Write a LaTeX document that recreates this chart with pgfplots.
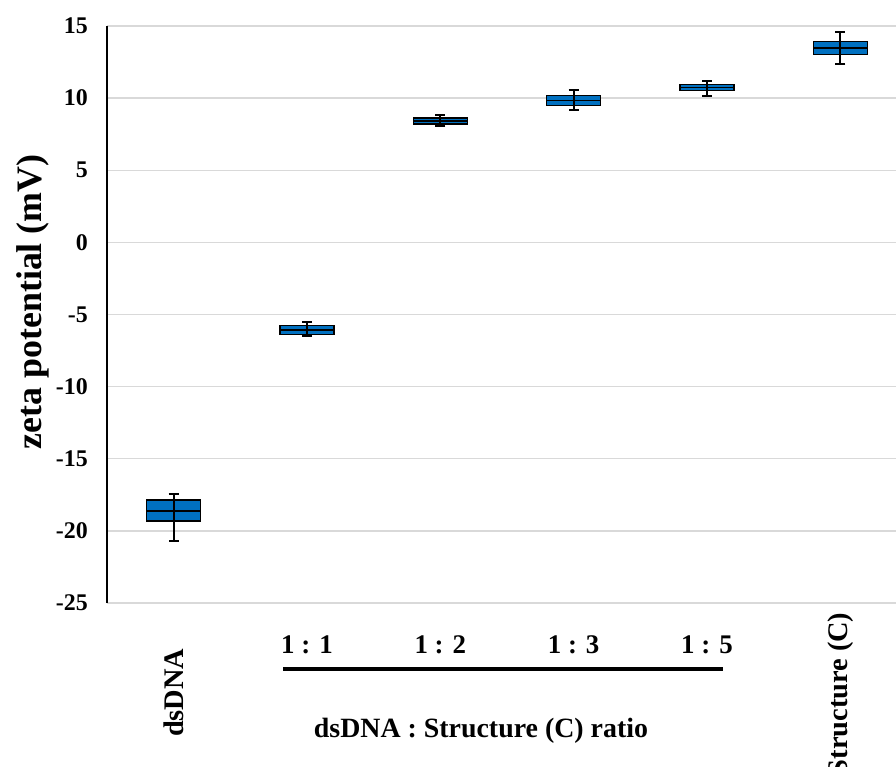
\documentclass[border=0pt]{standalone}
\usepackage{fontspec}
\setmainfont{Liberation Serif}
\usepackage{pgfplots}
\pgfplotsset{compat=1.18}
\usepgfplotslibrary{statistics}
\usetikzlibrary{calc}
\definecolor{boxblue}{HTML}{0070C0}
\definecolor{gridgray}{HTML}{D9D9D9}
\newcommand{\tfont}{\bfseries\fontsize{24}{28}\selectfont}
\newcommand{\cfont}{\bfseries\fontsize{27}{30}\selectfont}
\newcommand{\rfont}{\bfseries\fontsize{28.5}{32}\selectfont}
\begin{document}
\begin{tikzpicture}
\begin{axis}[
  scale only axis,
  width=789bp, height=577bp,
  xmin=-0.5, xmax=5.4175,
  ymin=-25, ymax=15,
  ytick={-25,-20,...,15},
  xtick=\empty,
  axis lines*=left,
  x axis line style={draw=none},
  y axis line style={black, line width=1.4pt},
  ymajorgrids,
  grid style={gridgray, line width=1.3pt},
  major tick length=0pt,
  /pgf/number format/assume math mode=true,
  yticklabel style={font=\tfont, inner sep=0pt, anchor=east, xshift=-19bp},
  ylabel={zeta potential (mV)},
  ylabel style={font=\bfseries\fontsize{36}{40}\selectfont, at={(axis description cs:0,0.522)}, anchor=center, yshift=74bp},
  clip=false,
  boxplot/draw direction=y,
]
\pgfplotsset{mybox/.style={draw=black, line width=1.6pt, fill=boxblue, solid, mark=none}}
\addplot[mybox, boxplot prepared={draw position=0, median=-18.64, lower quartile=-19.33, upper quartile=-17.88, lower whisker=-19.33, upper whisker=-17.88, box extend=0.405, whisker extend=0}] coordinates {};
\addplot[mybox, boxplot prepared={draw position=1, median=-6.06, lower quartile=-6.38, upper quartile=-5.75, lower whisker=-6.38, upper whisker=-5.75, box extend=0.405, whisker extend=0}] coordinates {};
\addplot[mybox, boxplot prepared={draw position=2, median=8.43, lower quartile=8.22, upper quartile=8.64, lower whisker=8.22, upper whisker=8.64, box extend=0.405, whisker extend=0}] coordinates {};
\addplot[mybox, boxplot prepared={draw position=3, median=9.84, lower quartile=9.49, upper quartile=10.19, lower whisker=9.49, upper whisker=10.19, box extend=0.405, whisker extend=0}] coordinates {};
\addplot[mybox, boxplot prepared={draw position=4, median=10.74, lower quartile=10.53, upper quartile=10.95, lower whisker=10.53, upper whisker=10.95, box extend=0.405, whisker extend=0}] coordinates {};
\addplot[mybox, boxplot prepared={draw position=5, median=13.48, lower quartile=13.03, upper quartile=13.93, lower whisker=13.03, upper whisker=13.93, box extend=0.405, whisker extend=0}] coordinates {};
\addplot[draw=none, mark=none, forget plot,
  error bars/.cd, y dir=both, y explicit,
  error bar style={black, line width=2pt},
  error mark options={black, rotate=90, mark size=5bp, line width=2pt}]
  table[x=x, y=y, y error plus=ep, y error minus=em] {
x y ep em
0 -18.64 1.18 2.08
1 -6.06 0.52 0.45
2 8.43 0.37 0.39
3 9.84 0.74 0.69
4 10.74 0.42 0.62
5 13.48 1.07 1.10
};
\coordinate (A) at (rel axis cs:0,0);
\node[font=\rfont, rotate=90, anchor=east] at ([yshift=-42bp]axis cs:0,-25) {dsDNA};
\node[font=\rfont, rotate=90, anchor=east] at ([yshift=-6bp]axis cs:5,-25) {Structure (C)};
\node[font=\cfont, anchor=base] at ([yshift=-50bp]axis cs:1,-25) {1 : 1};
\node[font=\cfont, anchor=base] at ([yshift=-50bp]axis cs:2,-25) {1 : 2};
\node[font=\cfont, anchor=base] at ([yshift=-50bp]axis cs:3,-25) {1 : 3};
\node[font=\cfont, anchor=base] at ([yshift=-50bp]axis cs:4,-25) {1 : 5};
\draw[black, line width=4.5pt] ([yshift=-66bp]axis cs:0.82,-25) -- ([yshift=-66bp]axis cs:4.12,-25);
\node[font=\bfseries\fontsize{28}{32}\selectfont, anchor=base] at ([yshift=-134bp]axis cs:2.305,-25) {dsDNA : Structure (C) ratio};
\end{axis}
\pgfresetboundingbox
\path[use as bounding box] ($(A)+(-107bp,-164bp)$) rectangle ($(A)+(789bp,603bp)$);
\end{tikzpicture}
\end{document}
